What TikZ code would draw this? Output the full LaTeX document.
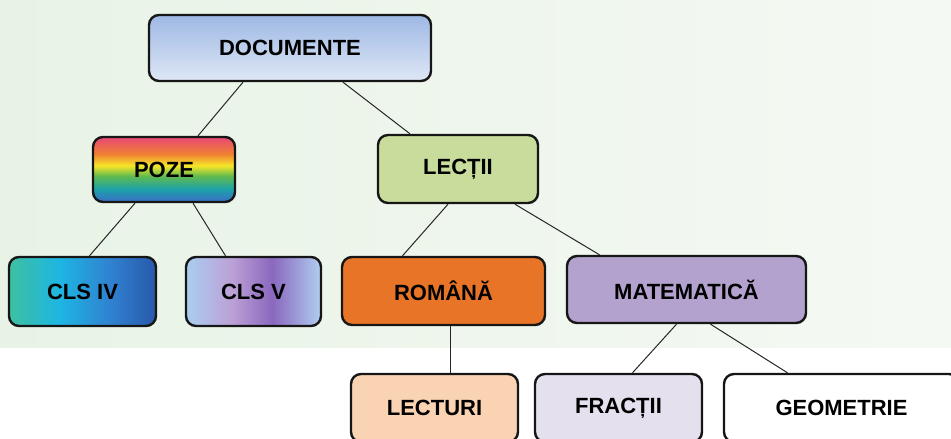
\documentclass[tikz,border=0pt]{standalone}
\usepackage{fontspec}
\setmainfont{Liberation Sans}

\definecolor{bgleft}{RGB}{232,243,230}
\definecolor{bgright}{RGB}{245,249,244}
\definecolor{boxline}{RGB}{22,22,22}
\definecolor{doctop}{RGB}{158,184,228}
\definecolor{docbot}{RGB}{222,231,246}
\definecolor{lectiifill}{RGB}{200,220,156}
\definecolor{romanafill}{RGB}{232,116,40}
\definecolor{matefill}{RGB}{180,162,206}
\definecolor{lecturifill}{RGB}{250,211,178}
\definecolor{fractiifill}{RGB}{228,224,238}
% rainbow
\definecolor{rbblue}{RGB}{58,108,198}
\definecolor{rbteal}{RGB}{28,162,168}
\definecolor{rbgreen}{RGB}{96,186,78}
\definecolor{rbyellow}{RGB}{246,230,40}
\definecolor{rborange}{RGB}{240,128,50}
\definecolor{rbpink}{RGB}{232,72,118}
% cls iv / cls v
\definecolor{c4a}{RGB}{62,192,160}
\definecolor{c4b}{RGB}{30,182,226}
\definecolor{c4c}{RGB}{48,128,208}
\definecolor{c4d}{RGB}{40,88,170}
\definecolor{c5a}{RGB}{170,206,240}
\definecolor{c5b}{RGB}{188,160,214}
\definecolor{c5c}{RGB}{138,104,190}
\definecolor{c5d}{RGB}{176,206,240}

\pgfdeclareverticalshading{pozerainbow}{100bp}{color(0bp)=(rbblue); color(25bp)=(rbblue);
  color(35bp)=(rbteal); color(45bp)=(rbgreen); color(53bp)=(rbyellow);
  color(62bp)=(rborange); color(75bp)=(rbpink); color(100bp)=(rbpink)}
\pgfdeclarehorizontalshading{clsfour}{100bp}{color(0bp)=(c4a); color(25bp)=(c4a);
  color(42bp)=(c4b); color(60bp)=(c4c); color(75bp)=(c4d); color(100bp)=(c4d)}
\pgfdeclarehorizontalshading{clsfive}{100bp}{color(0bp)=(c5a); color(25bp)=(c5a);
  color(42bp)=(c5b); color(57bp)=(c5c); color(75bp)=(c5d); color(100bp)=(c5d)}

\begin{document}
\begin{tikzpicture}[x=1pt, y=-1pt,
    box/.style={draw=boxline, line width=2.4pt, rounded corners=10pt,
      font=\fontsize{22}{26}\selectfont\bfseries, text=black, inner sep=0pt},
    link/.style={black!85, line width=1pt}]

  \useasboundingbox (0,0) rectangle (951,439);
  \clip (0,0) rectangle (951,439);

  % --- Background ---
  \fill[left color=bgleft, right color=bgright] (0,0) rectangle (951,347);

  % --- Top ---
  \node[box, top color=doctop, bottom color=docbot,
        minimum width=282, minimum height=66] (doc) at (290,48) {DOCUMENTE};

  % --- Level 2 ---
  \node[box, shading=pozerainbow, minimum width=142, minimum height=65] (poze) at (164,169.5) {POZE};
  \node[box, fill=lectiifill, minimum width=160, minimum height=68] (lectii) at (458,169) {LECȚII};

  % --- Level 3 ---
  \node[box, shading=clsfour, minimum width=147, minimum height=69] (clsiv) at (82.5,291.5) {CLS IV};
  \node[box, shading=clsfive, minimum width=135, minimum height=69] (clsv) at (253.5,291.5) {CLS V};
  \node[box, fill=romanafill, minimum width=203, minimum height=68] (romana) at (443.5,291) {ROMÂNĂ};
  \node[box, fill=matefill, minimum width=239, minimum height=67] (mate) at (686.5,289.5) {MATEMATICĂ};

  % --- Level 4 ---
  \node[box, fill=lecturifill, minimum width=167, minimum height=68] (lecturi) at (434.5,408) {LECTURI};
  \node[box, fill=fractiifill, minimum width=167, minimum height=68] (fractii) at (618.5,408) {FRACȚII};
  \node[box, fill=white, minimum width=235, minimum height=68] (geom) at (841.5,408) {GEOMETRIE};

  % --- Links ---
  \draw[link] ([xshift=-47]doc.south) -- ([xshift=34]poze.north);
  \draw[link] ([xshift=53]doc.south) -- ([xshift=-48]lectii.north);
  \draw[link] ([xshift=-29]poze.south) -- ([xshift=7]clsiv.north);
  \draw[link] ([xshift=29]poze.south) -- ([xshift=-28]clsv.north);
  \draw[link] ([xshift=-10]lectii.south) -- ([xshift=-41]romana.north);
  \draw[link] ([xshift=57]lectii.south) -- ([xshift=-87]mate.north);
  \draw[link] ([xshift=7]romana.south) -- ([xshift=7]romana.south |- lecturi.north);
  \draw[link] ([xshift=-10]mate.south) -- ([xshift=14]fractii.north);
  \draw[link] ([xshift=24]mate.south) -- ([xshift=-54]geom.north);

\end{tikzpicture}
\end{document}
